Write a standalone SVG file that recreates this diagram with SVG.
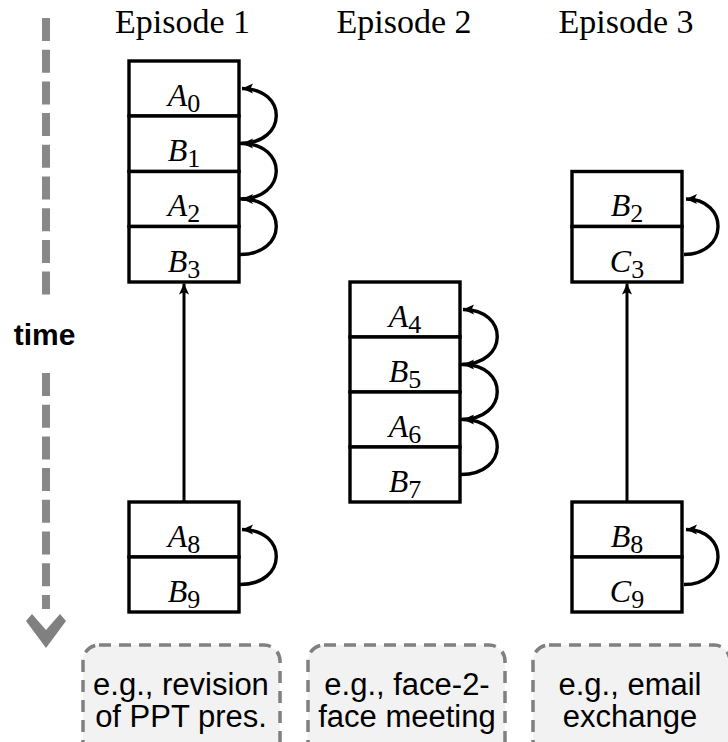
<svg xmlns="http://www.w3.org/2000/svg" width="728" height="742" viewBox="0 0 728 742">
<style>
.cell{fill:#fff;stroke:#000;stroke-width:3.4}
.lbl{font-family:"Liberation Serif","Times New Roman",serif;font-size:32px;text-anchor:middle;fill:#000}
.lbl .v{font-style:italic}
.lbl .s{font-size:26px}
.hdr{font-family:"Liberation Serif","Times New Roman",serif;font-size:34px;text-anchor:middle;fill:#000}
.arc{fill:none;stroke:#000;stroke-width:3.4;marker-end:url(#ah)}
.vline{fill:none;stroke:#000;stroke-width:3;marker-end:url(#ah)}
.note{fill:#f2f2f2;stroke:#808080;stroke-width:3.5;stroke-dasharray:12 8}
.ntxt{font-family:"Liberation Sans",Arial,sans-serif;font-size:31px;text-anchor:middle;fill:#000}
.time{fill:none;stroke:#888;stroke-width:8;stroke-dasharray:23 8.7}
</style>
<defs>
<marker id="ah" markerUnits="userSpaceOnUse" markerWidth="14" markerHeight="12" refX="11" refY="5" orient="auto">
<path d="M0,0 L11,5 L0,10 L2.5,5 z" fill="#000"/>
</marker>
</defs>
<rect width="728" height="742" fill="#fff"/>

<g id="time-axis">
<line class="time" x1="46" y1="18" x2="46" y2="297"/>
<line class="time" x1="46" y1="373" x2="46" y2="609"/>
<polygon points="26,621 32,614 46,630 60,614 66,621 46,648" fill="#808080"/>
<text x="44.5" y="345" font-family="Liberation Sans,Arial,sans-serif" font-size="30" font-weight="bold" text-anchor="middle">time</text>
</g>

<g id="headers">
<text class="hdr" x="182.5" y="33">Episode 1</text>
<text class="hdr" x="404" y="33">Episode 2</text>
<text class="hdr" x="626" y="33">Episode 3</text>
</g>

<g id="connectors">
<path class="arc" d="M240,143.5 C288,143.5 288,88.5 242,88.5"/>
<path class="arc" d="M240,199 C288,199 288,143.5 242,143.5"/>
<path class="arc" d="M240,254.5 C288,254.5 288,199 242,199"/>
<path class="arc" d="M240,584.5 C288,584.5 288,529.5 242,529.5"/>
<path class="arc" d="M461,364.5 C509,364.5 509,309.5 463,309.5"/>
<path class="arc" d="M461,419.5 C509,419.5 509,364.5 463,364.5"/>
<path class="arc" d="M461,474.5 C509,474.5 509,419.5 463,419.5"/>
<path class="arc" d="M684,254.5 C729,254.5 729,199 686,199"/>
<path class="arc" d="M684,584.5 C729,584.5 729,529.5 686,529.5"/>
<line class="vline" x1="184" y1="502" x2="184" y2="283.5"/>
<line class="vline" x1="627" y1="502" x2="627" y2="283.5"/>
</g>

<g id="A0"><rect class="cell" x="129" y="61" width="110" height="55"/><text class="lbl" x="184" y="105.5"><tspan class="v">A</tspan><tspan class="s" dy="6">0</tspan></text></g>
<g id="B1"><rect class="cell" x="129" y="116" width="110" height="55.5"/><text class="lbl" x="184" y="160.5"><tspan class="v">B</tspan><tspan class="s" dy="6">1</tspan></text></g>
<g id="A2"><rect class="cell" x="129" y="171.5" width="110" height="55"/><text class="lbl" x="184" y="216"><tspan class="v">A</tspan><tspan class="s" dy="6">2</tspan></text></g>
<g id="B3"><rect class="cell" x="129" y="226.5" width="110" height="55.5"/><text class="lbl" x="184" y="271.5"><tspan class="v">B</tspan><tspan class="s" dy="6">3</tspan></text></g>

<g id="A8"><rect class="cell" x="129" y="502" width="110" height="55"/><text class="lbl" x="184" y="546.5"><tspan class="v">A</tspan><tspan class="s" dy="6">8</tspan></text></g>
<g id="B9"><rect class="cell" x="129" y="557" width="110" height="55"/><text class="lbl" x="184" y="601.5"><tspan class="v">B</tspan><tspan class="s" dy="6">9</tspan></text></g>

<g id="A4"><rect class="cell" x="350" y="282" width="110" height="55"/><text class="lbl" x="405" y="326.5"><tspan class="v">A</tspan><tspan class="s" dy="6">4</tspan></text></g>
<g id="B5"><rect class="cell" x="350" y="337" width="110" height="55"/><text class="lbl" x="405" y="381.5"><tspan class="v">B</tspan><tspan class="s" dy="6">5</tspan></text></g>
<g id="A6"><rect class="cell" x="350" y="392" width="110" height="55"/><text class="lbl" x="405" y="436.5"><tspan class="v">A</tspan><tspan class="s" dy="6">6</tspan></text></g>
<g id="B7"><rect class="cell" x="350" y="447" width="110" height="55"/><text class="lbl" x="405" y="491.5"><tspan class="v">B</tspan><tspan class="s" dy="6">7</tspan></text></g>

<g id="B2"><rect class="cell" x="572" y="171.5" width="110" height="55"/><text class="lbl" x="627" y="216"><tspan class="v">B</tspan><tspan class="s" dy="6">2</tspan></text></g>
<g id="C3"><rect class="cell" x="572" y="226.5" width="110" height="55.5"/><text class="lbl" x="627" y="271.5"><tspan class="v">C</tspan><tspan class="s" dy="6">3</tspan></text></g>

<g id="B8"><rect class="cell" x="572" y="502" width="110" height="55"/><text class="lbl" x="627" y="546.5"><tspan class="v">B</tspan><tspan class="s" dy="6">8</tspan></text></g>
<g id="C9"><rect class="cell" x="572" y="557" width="110" height="55"/><text class="lbl" x="627" y="601.5"><tspan class="v">C</tspan><tspan class="s" dy="6">9</tspan></text></g>

<g id="note1"><rect class="note" x="83" y="645" width="197" height="115" rx="16"/><text class="ntxt" x="181" y="695">e.g., revision</text><text class="ntxt" x="181" y="727">of PPT pres.</text></g>
<g id="note2"><rect class="note" x="308" y="645" width="197" height="115" rx="16"/><text class="ntxt" x="407" y="695">e.g., face-2-</text><text class="ntxt" x="407" y="727">face meeting</text></g>
<g id="note3"><rect class="note" x="533" y="645" width="197" height="115" rx="16"/><text class="ntxt" x="630" y="695">e.g., email</text><text class="ntxt" x="630" y="727">exchange</text></g>
</svg>
